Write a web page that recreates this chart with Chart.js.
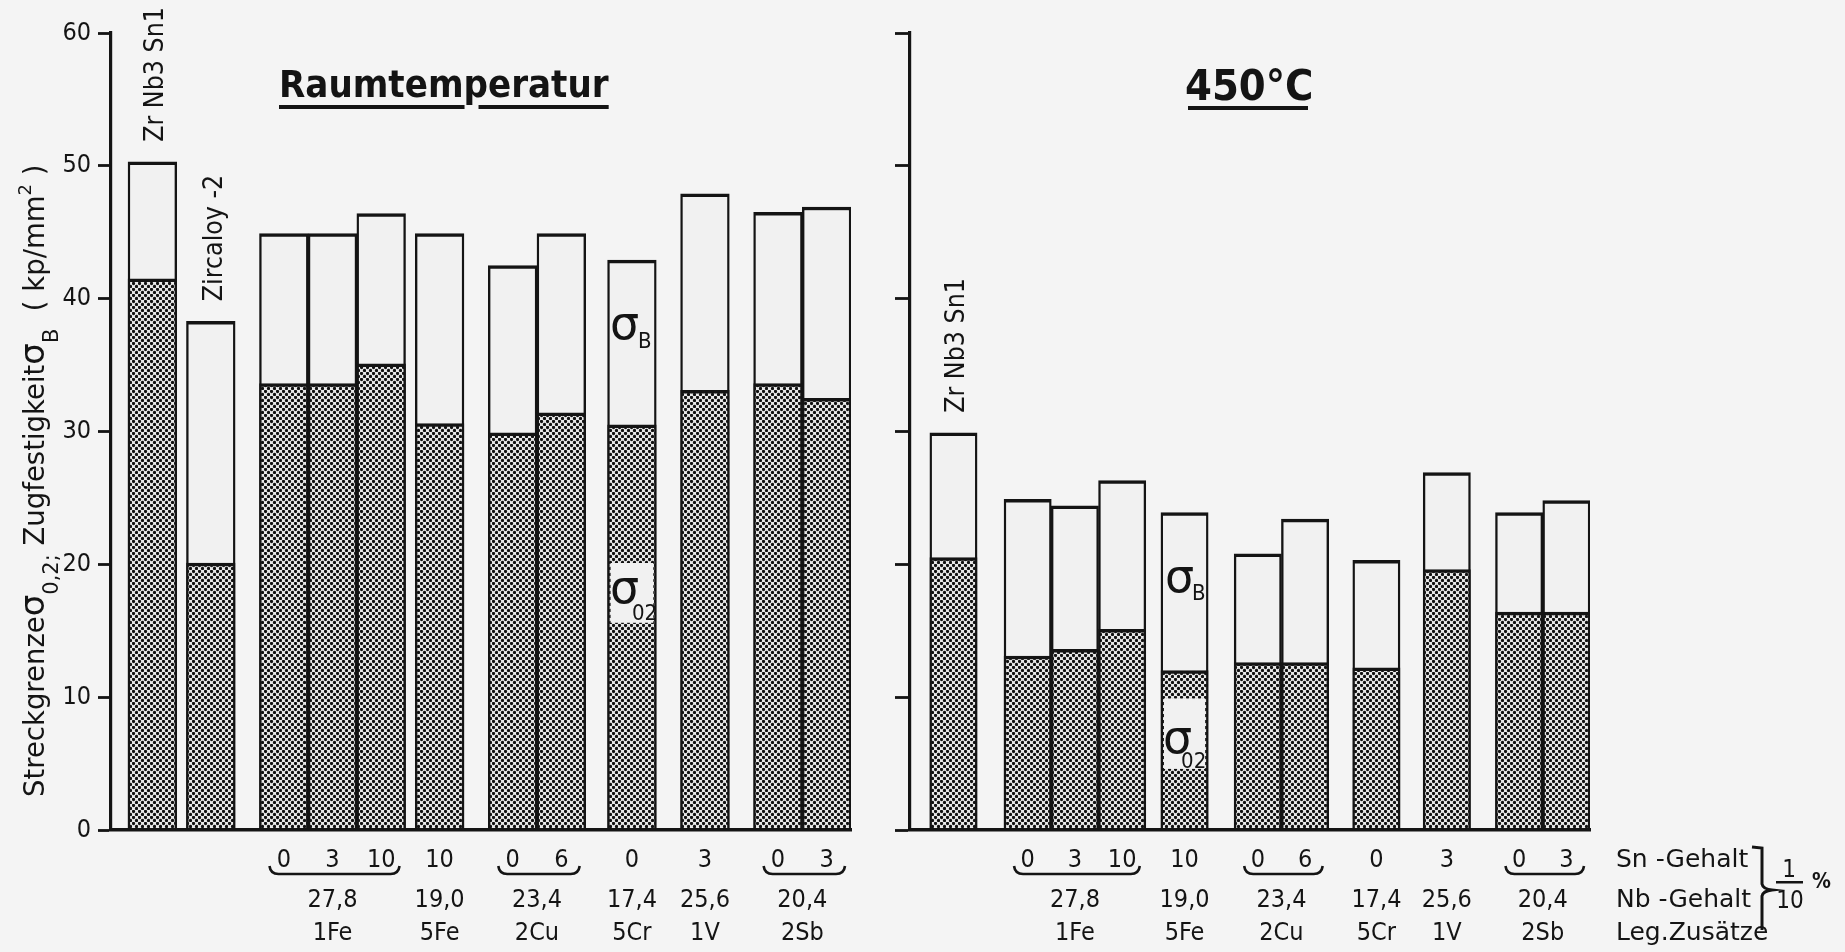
<!DOCTYPE html>
<html>
<head>
<meta charset="utf-8">
<title>Streckgrenze und Zugfestigkeit</title>
<script src="https://cdn.jsdelivr.net/npm/chart.js@4.4.1/dist/chart.umd.min.js"></script>
<style>
  html, body { margin: 0; padding: 0; background: #f4f4f4; }
  #wrap { position: relative; width: 1845px; height: 952px; overflow: hidden; }
  canvas { position: absolute; top: 0; }
  #left { left: 0; }
  #right { left: 880px; }
</style>
</head>
<body>
<div id="wrap">
  <canvas id="left" width="880" height="952"></canvas>
  <canvas id="right" width="965" height="952"></canvas>
</div>
<script>
// Raumtemperatur (kp/mm2)
const roomNames   = ['Zr Nb3 Sn1', 'Zircaloy -2'];
const roomTensile = [50.3, 38.3, 44.9, 44.9, 46.4, 44.9, 42.5, 44.9, 42.9, 47.9, 46.5, 46.9];
const roomYield   = [41.5, 20.1, 33.6, 33.6, 35.1, 30.6, 29.9, 31.4, 30.5, 33.1, 33.6, 32.5];
const roomSn      = ['', '', '0', '3', '10', '10', '0', '6', '0', '3', '0', '3'];

// 450 °C (kp/mm2)
const hotNames   = ['Zr Nb3 Sn1'];
const hotTensile = [29.9, 24.9, 24.4, 26.3, 23.9, 20.8, 23.4, 20.3, 26.9, 23.9, 24.8];
const hotYield   = [20.5, 13.1, 13.6, 15.1, 12.0, 12.6, 12.6, 12.2, 19.6, 16.4, 16.4];
const hotSn      = ['', '0', '3', '10', '10', '0', '6', '0', '3', '0', '3'];

// alloy groups: Nb-Gehalt, Leg.Zusatz, bars per group
const groupNb   = ['27,8', '19,0', '23,4', '17,4', '25,6', '20,4'];
const groupAdd  = ['1Fe', '5Fe', '2Cu', '5Cr', '1V', '2Sb'];
const groupSize = [3, 1, 2, 1, 1, 2];

const rowLabels = ['Sn -Gehalt', 'Nb -Gehalt', 'Leg.Zusätze'];

// spacing before each bar, in bar widths
const roomGaps = [0.35, 0.2, 0.5, 0, 0, 0.2, 0.5, 0, 0.45, 0.5, 0.5, 0];
const hotGaps  = [0.42, 0.57, 0, 0, 0.32, 0.55, 0, 0.51, 0.49, 0.53, 0];

const SANS = "'DejaVu Sans', sans-serif";
const COND = "'DejaVu Sans Condensed', 'DejaVu Sans', sans-serif";
const INK = '#141414';
const PAPER = '#f1f1f1';
const ROW_Y = [867, 907, 940];

function slotCentres(gaps) {
  let x = 0;
  return gaps.map(function (g) {
    x += g;
    const c = x + 0.5;
    x += 1;
    return c;
  });
}

function span(gaps) {
  return gaps.reduce(function (a, b) { return a + b; }, 0) + gaps.length;
}

function stipple() {
  const c = document.createElement('canvas');
  c.width = 6; c.height = 6;
  const g = c.getContext('2d');
  g.fillStyle = '#e9e9e9';
  g.fillRect(0, 0, 6, 6);
  g.fillStyle = '#111';
  [[1.5, 1.5], [4.5, 4.5]].forEach(function (p) {
    g.beginPath();
    g.arc(p[0], p[1], 1.65, 0, Math.PI * 2);
    g.fill();
  });
  return g.createPattern(c, 'repeat');
}

function setFont(ctx, size, weight, family) {
  ctx.font = (weight || 'normal') + ' ' + size + 'px ' + (family || COND);
}

// text reading bottom to top, starting at (x, y)
function upText(ctx, txt, x, y, size) {
  ctx.save();
  ctx.translate(x, y);
  ctx.rotate(-Math.PI / 2);
  setFont(ctx, size);
  ctx.textAlign = 'left';
  ctx.textBaseline = 'middle';
  ctx.fillText(txt, 0, 0);
  ctx.restore();
}

function underbrace(ctx, x1, x2, y) {
  ctx.lineWidth = 2.6;
  ctx.beginPath();
  ctx.moveTo(x1, y - 8);
  ctx.quadraticCurveTo(x1 + 1, y, x1 + 9, y);
  ctx.lineTo(x2 - 9, y);
  ctx.quadraticCurveTo(x2 - 1, y, x2, y - 8);
  ctx.stroke();
}

function sigmaNotes(ctx, xs, ys, unit, notes) {
  notes.forEach(function (n) {
    const c = xs.getPixelForValue(n.centre);
    if (n.box) {
      ctx.fillStyle = PAPER;
      const top = ys.getPixelForValue(n.box[0]);
      ctx.fillRect(c - unit / 2 + 3, top, unit - 6, ys.getPixelForValue(n.box[1]) - top);
    }
    ctx.fillStyle = INK;
    ctx.textAlign = 'left';
    ctx.textBaseline = 'alphabetic';
    setFont(ctx, 46, 'normal', SANS);
    ctx.fillText('σ', c + n.dx, ys.getPixelForValue(n.base));
    setFont(ctx, 22, 'normal', COND);
    ctx.fillText(n.sub, c + n.subDx, ys.getPixelForValue(n.subBase));
  });
}

function panelLabels(p) {
  return {
    id: 'panelLabels',
    afterDraw: function (chart) {
      const ctx = chart.ctx, xs = chart.scales.x, ys = chart.scales.y;
      const unit = xs.getPixelForValue(1) - xs.getPixelForValue(0);
      const cx = function (i) { return xs.getPixelForValue(p.centres[i]); };
      ctx.save();
      ctx.fillStyle = INK;
      ctx.strokeStyle = INK;

      p.names.forEach(function (name, i) {
        upText(ctx, name, cx(i) + 4, ys.getPixelForValue(p.tensile[i]) - 20, 26.5);
      });

      setFont(ctx, 25);
      ctx.textAlign = 'center';
      ctx.textBaseline = 'alphabetic';
      p.sn.forEach(function (s, i) { if (s) ctx.fillText(s, cx(i), ROW_Y[0]); });

      let k = p.firstAlloy;
      groupSize.forEach(function (n, g) {
        const a = k, b = k + n - 1;
        k += n;
        const mid = (cx(a) + cx(b)) / 2;
        ctx.fillText(groupNb[g], mid, ROW_Y[1]);
        ctx.fillText(groupAdd[g], mid, ROW_Y[2]);
        if (n > 1) underbrace(ctx, cx(a) - unit / 2 + 10, cx(b) + unit / 2 - 6, 874);
      });

      sigmaNotes(ctx, xs, ys, unit, p.notes);
      if (p.extra) p.extra(ctx);
      ctx.restore();
    }
  };
}

function makePanel(id, p) {
  const pattern = stipple();
  p.centres = slotCentres(p.gaps);
  const pts = function (vals) {
    return vals.map(function (v, i) { return { x: p.centres[i], y: v }; });
  };
  const bar = {
    grouped: false,
    barPercentage: 1,
    categoryPercentage: 1,
    borderColor: INK,
    borderWidth: { top: 3.5, left: 2.4, right: 2.4, bottom: 0 },
    borderSkipped: 'start'
  };
  return new Chart(document.getElementById(id), {
    type: 'bar',
    data: {
      datasets: [
        Object.assign({ label: 'Streckgrenze σ0,2', data: pts(p.yield), backgroundColor: pattern }, bar),
        Object.assign({ label: 'Zugfestigkeit σB', data: pts(p.tensile), backgroundColor: PAPER }, bar)
      ]
    },
    options: {
      responsive: false,
      animation: false,
      devicePixelRatio: 1,
      layout: { padding: p.padding },
      plugins: { legend: { display: false }, tooltip: { enabled: false } },
      scales: {
        x: {
          type: 'linear',
          offset: false,
          min: 0,
          max: span(p.gaps),
          ticks: { display: false, stepSize: 100 },
          grid: { display: false, offset: false },
          border: { color: INK, width: 3.5, z: 1 },
          afterFit: function (s) { s.height = 0; }
        },
        y: {
          min: 0,
          max: 60,
          ticks: {
            display: p.tickLabels,
            stepSize: 10,
            padding: 7,
            color: INK,
            font: { family: COND, size: 25 }
          },
          grid: { drawOnChartArea: false, color: INK, tickLength: p.tickLength, tickWidth: 2.8 },
          border: { color: INK, width: 3.2 },
          afterFit: function (s) { s.width = p.axisWidth; }
        }
      }
    },
    plugins: [panelLabels(p)]
  });
}

makePanel('left', {
  tensile: roomTensile, yield: roomYield, sn: roomSn, names: roomNames,
  gaps: roomGaps, firstAlloy: 2,
  padding: { left: 0, right: 29, top: 33, bottom: 122 },
  axisWidth: 111, tickLength: 13, tickLabels: true,
  notes: [
    { centre: slotCentres(roomGaps)[8], sub: 'B', dx: -22, base: 37.0, subDx: 6, subBase: 36.3 },
    { centre: slotCentres(roomGaps)[8], sub: '02', dx: -22, base: 17.1, subDx: 0, subBase: 15.8, box: [20.1, 15.6] }
  ],
  extra: function (ctx) {
    // y axis title with subscripts
    const runs = [
      ['Streckgrenze', 27.5, 0], ['σ', 34, 0], ['0,2;', 21, 14], [' Zugfestigkeit', 27.5, 0],
      ['σ', 34, 0], ['B', 21, 14], ['  ( kp/mm', 27.5, 0], ['2', 18, -13], [' )', 27.5, 0]
    ];
    ctx.save();
    ctx.translate(44, 797);
    ctx.rotate(-Math.PI / 2);
    ctx.textAlign = 'left';
    ctx.textBaseline = 'alphabetic';
    let pos = 0;
    runs.forEach(function (r) {
      setFont(ctx, r[1], 'normal', SANS);
      ctx.fillText(r[0], pos, r[2]);
      pos += ctx.measureText(r[0]).width;
    });
    ctx.restore();

    // panel title, underline broken at the p
    setFont(ctx, 38, 'bold');
    ctx.textAlign = 'left';
    ctx.fillText('Raumtemperatur', 279, 97);
    const head = ctx.measureText('Raumtem').width;
    const full = ctx.measureText('Raumtemperatur').width;
    ctx.fillRect(279, 105, head + 1, 4);
    ctx.fillRect(279 + head + 15, 105, full - head - 15, 4);
  }
});

makePanel('right', {
  tensile: hotTensile, yield: hotYield, sn: hotSn, names: hotNames,
  gaps: hotGaps, firstAlloy: 1,
  padding: { left: 15, right: 255, top: 33, bottom: 122 },
  axisWidth: 15, tickLength: 15, tickLabels: false,
  notes: [
    { centre: slotCentres(hotGaps)[4], sub: 'B', dx: -19.5, base: 17.9, subDx: 7.5, subBase: 17.3 },
    { centre: slotCentres(hotGaps)[4], sub: '02', dx: -21.5, base: 5.8, subDx: -3.5, subBase: 4.7, box: [9.9, 4.6] }
  ],
  extra: function (ctx) {
    setFont(ctx, 43, 'bold');
    ctx.textAlign = 'left';
    ctx.fillText('450°C', 305, 100);
    ctx.fillRect(308, 106, 120, 4);

    // row captions with the bracket and 1/10 %
    setFont(ctx, 25, 'normal', SANS);
    rowLabels.forEach(function (t, i) { ctx.fillText(t, 736, ROW_Y[i]); });
    ctx.lineWidth = 3;
    ctx.beginPath();
    ctx.moveTo(872, 847);
    ctx.lineTo(882, 848);
    ctx.lineTo(882, 884);
    ctx.quadraticCurveTo(883, 889, 892, 890);
    ctx.quadraticCurveTo(883, 891, 882, 896);
    ctx.lineTo(882, 930);
    ctx.stroke();
    setFont(ctx, 24);
    ctx.textAlign = 'center';
    ctx.fillText('1', 909, 877);
    ctx.fillText('10', 910, 908);
    ctx.fillRect(896, 881, 27, 2.5);
    setFont(ctx, 21, 'bold');
    ctx.textAlign = 'left';
    ctx.fillText('%', 932, 888);
  }
});
</script>
</body>
</html>
